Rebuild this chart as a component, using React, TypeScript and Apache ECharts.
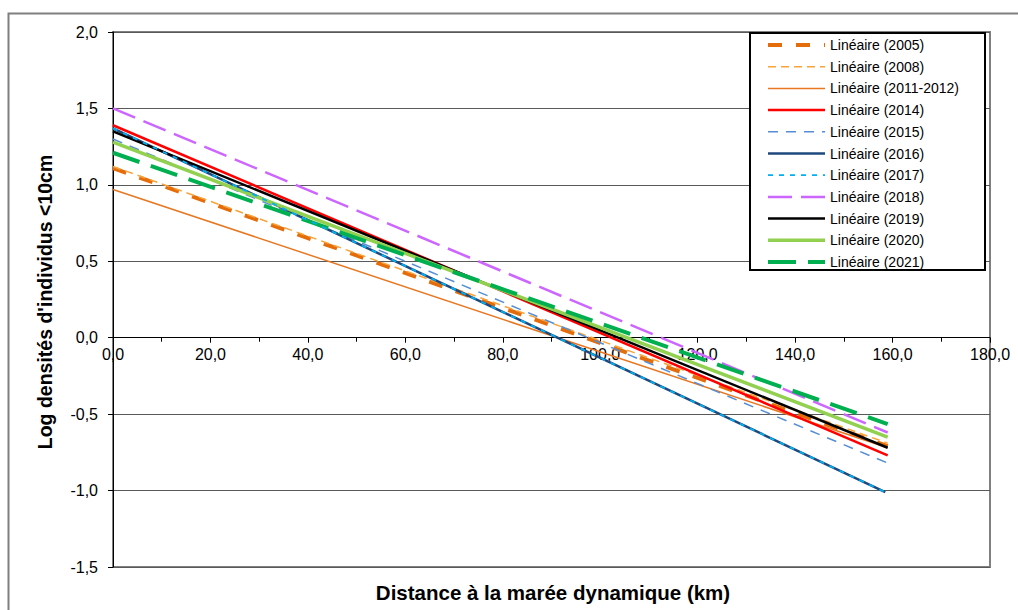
import React, { useEffect, useRef } from "react";
import * as echarts from "echarts";

const seriesNames = [
  "Linéaire (2005)",
  "Linéaire (2008)",
  "Linéaire (2011-2012)",
  "Linéaire (2014)",
  "Linéaire (2015)",
  "Linéaire (2016)",
  "Linéaire (2017)",
  "Linéaire (2018)",
  "Linéaire (2019)",
  "Linéaire (2020)",
  "Linéaire (2021)",
];
const xStart = [0, 0, 0, 0, 0, 0, 0, 0, 0, 0, 0];
const xEnd = [159, 159, 159, 159, 159, 158.5, 158.5, 159, 159, 159, 159];
const yStart = [1.11, 1.12, 0.97, 1.39, 1.3, 1.37, 1.37, 1.5, 1.35, 1.28, 1.21];
const yEnd = [-0.71, -0.69, -0.72, -0.77, -0.82, -1.01, -1.01, -0.62, -0.72, -0.65, -0.565];
const colors = ["#E46C0A", "#F9A33A", "#E87722", "#FF0000", "#558ED5", "#1F497D", "#00B0F0", "#CC66FF", "#000000", "#92D050", "#00B050"];
const widths = [4, 1.5, 1.5, 2.5, 1.5, 2.5, 1.8, 2.5, 2.5, 3.5, 4];
const dashes: any[] = [[14, 14], [8, 5], null, null, [10, 8], null, [5, 6], [24, 9], null, null, [28, 12]];
const yTicks = { min: -1.5, max: 2, interval: 0.5 };
const xTicks = { min: 0, max: 180, interval: 20 };

const fmt = (v: number) => v.toFixed(1).replace(".", ",");
const FONT = "Liberation Sans, Arial, sans-serif";

export default function App() {
  const ref = useRef<HTMLDivElement>(null);
  useEffect(() => {
    if (!ref.current) return;
    const chart = echarts.init(ref.current, null, { renderer: "svg" });
    const series = seriesNames.map((name, i) => ({
      name,
      type: "line",
      data: [
        [xStart[i], yStart[i]],
        [xEnd[i], yEnd[i]],
      ],
      symbol: "none",
      showSymbol: false,
      lineStyle: { color: colors[i], width: widths[i], type: dashes[i] ? dashes[i] : "solid" },
      itemStyle: { color: colors[i] },
      z: 2 + (i === 6 ? 1 : 0),
    }));

    const gridTop = 32;
    const gridBottom = 43;
    const plotH = 610 - gridTop - gridBottom;
    const zeroOffset = (plotH * (0 - yTicks.min)) / (yTicks.max - yTicks.min);

    const legendItems: any[] = [];
    seriesNames.forEach((name, i) => {
      const cy = 45 + i * 21.7;
      legendItems.push({
        type: "line",
        z: 20,
        silent: true,
        shape: { x1: 768, y1: cy, x2: 825, y2: cy },
        style: {
          stroke: colors[i],
          lineWidth: widths[i],
          lineDash: dashes[i] ? dashes[i] : null,
        },
      });
      legendItems.push({
        type: "text",
        z: 20,
        x: 830,
        y: cy,
        style: {
          text: name,
          fontSize: 14,
          fontFamily: FONT,
          fill: "#000",
          textAlign: "left",
          textVerticalAlign: "middle",
        },
      });
    });

    chart.setOption({
      animation: false,
      backgroundColor: "#ffffff",
      textStyle: { fontFamily: FONT },
      grid: {
        left: 113,
        right: 28,
        top: gridTop,
        bottom: gridBottom,
        show: true,
        borderColor: "#808080",
        borderWidth: 2,
        backgroundColor: "transparent",
      },
      xAxis: {
        type: "value",
        min: xTicks.min,
        max: xTicks.max,
        interval: xTicks.interval,
        position: "bottom",
        offset: -zeroOffset,
        axisLine: { onZero: false, lineStyle: { color: "#000", width: 1 } },
        axisTick: { show: true, length: 5, inside: false, lineStyle: { color: "#000" } },
        minorTick: { show: true, splitNumber: 2, length: 4, lineStyle: { color: "#000" } },
        splitLine: { show: false },
        axisLabel: {
          formatter: (v: number) => fmt(v),
          color: "#000",
          fontSize: 16,
          margin: 9,
          fontFamily: FONT,
        },
      },
      yAxis: {
        type: "value",
        min: yTicks.min,
        max: yTicks.max,
        interval: yTicks.interval,
        axisLine: { show: true, onZero: false, lineStyle: { color: "#000", width: 1 } },
        axisTick: { show: true, length: 5, lineStyle: { color: "#000" } },
        splitLine: { show: true, lineStyle: { color: "#595959", width: 1 } },
        axisLabel: {
          formatter: (v: number) => fmt(v),
          color: "#000",
          fontSize: 16,
          margin: 15,
          fontFamily: FONT,
        },
      },
      legend: { show: false },
      graphic: [
        {
          type: "rect",
          z: 5,
          silent: true,
          shape: { x: 8.5, y: 13.5, width: 1100, height: 700 },
          style: { fill: "none", stroke: "#7f7f7f", lineWidth: 2 },
        },
        {
          type: "rect",
          z: 10,
          silent: true,
          shape: { x: 750, y: 33, width: 235, height: 237 },
          style: { fill: "#ffffff", stroke: "#000000", lineWidth: 2 },
        },
        ...legendItems,
        {
          type: "text",
          x: 45,
          y: 302,
          rotation: Math.PI / 2,
          z: 5,
          style: {
            text: "Log densités d'individus <10cm",
            fontSize: 19.5,
            fontWeight: "bold",
            fontFamily: FONT,
            fill: "#000",
            textAlign: "center",
            textVerticalAlign: "middle",
          },
        },
        {
          type: "text",
          x: 553,
          y: 592,
          z: 5,
          style: {
            text: "Distance à la marée dynamique (km)",
            fontSize: 20.5,
            fontWeight: "bold",
            fontFamily: FONT,
            fill: "#000",
            textAlign: "center",
            textVerticalAlign: "middle",
          },
        },
      ],
      series,
    });
    return () => chart.dispose();
  }, []);
  return <div ref={ref} style={{ width: 1018, height: 610, position: "absolute", left: 0, top: 0 }} />;
}
